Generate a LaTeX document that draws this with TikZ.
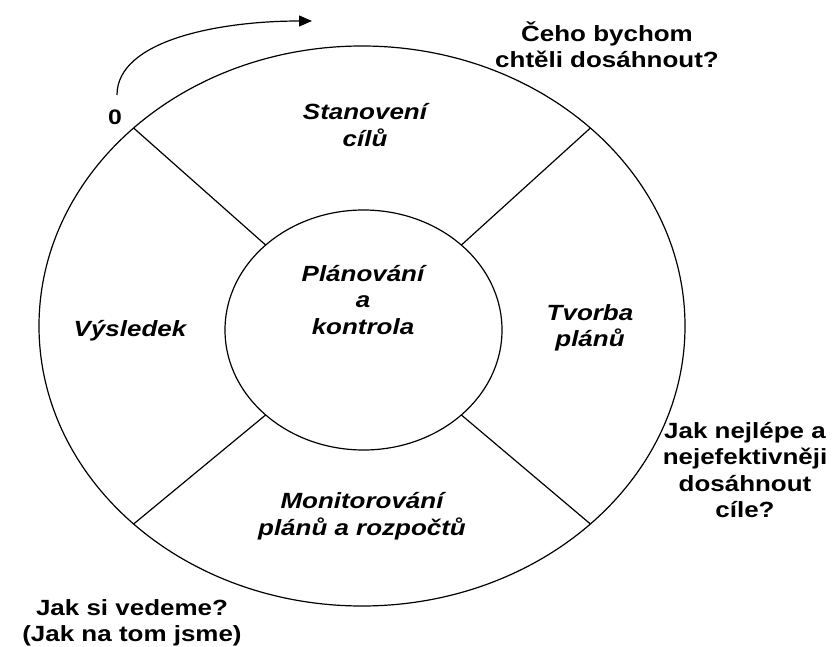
\documentclass[tikz,border=0pt]{standalone}
\usepackage{fontspec}
\setmainfont{Liberation Sans}[FakeStretch=1.18]
\usetikzlibrary{shapes.geometric,arrows.meta}
\begin{document}
\begin{tikzpicture}[x=1pt,y=-1pt,
  ring/.style={draw,ellipse,line width=1.2pt,inner sep=0pt,outer sep=0pt},
  divider/.style={line width=1.2pt},
  seg/.style={font=\fontsize{22}{26.5}\selectfont\bfseries\itshape,align=center,inner sep=0pt},
  note/.style={font=\fontsize{22}{26.5}\selectfont\bfseries,align=center,inner sep=0pt}]
\useasboundingbox (0,0) rectangle (832,647);
\node[ring,minimum width=646pt,minimum height=560pt] (outer) at (362,326) {};
\node[ring,minimum width=277pt,minimum height=240pt] (inner) at (363.5,330) {};
\coordinate (o1) at (133.6,128);
\coordinate (o2) at (590.4,128);
\coordinate (o3) at (133.6,524);
\coordinate (o4) at (590.4,524);
\coordinate (i1) at (265.6,245);
\coordinate (i2) at (461.4,245);
\coordinate (i3) at (265.6,415);
\coordinate (i4) at (461.4,415);
\draw[divider] (o1) -- (i1);
\draw[divider] (o2) -- (i2);
\draw[divider] (o3) -- (i3);
\draw[divider] (o4) -- (i4);
\node[seg] (stan) at (365,125) {Stanovení\\cílů};
\node[seg] (plan) at (363,300) {Plánování\\a\\kontrola};
\node[seg] (vys) at (130,331) {Výsledek};
\node[seg] (tvo) at (590,328) {Tvorba\\plánů};
\node[seg] (mon) at (362,516) {Monitorování\\plánů a rozpočtů};
\node[note] (q1) at (607,45) {Čeho bychom\\chtěli dosáhnout?};
\node[note] (q2) at (745,470) {Jak nejlépe a\\nejefektivněji\\dosáhnout\\cíle?};
\node[note] (q3) at (132,623) {Jak si vedeme?\\(Jak na tom jsme)};
\node[note,font=\fontsize{21}{24}\selectfont\bfseries] (zero) at (115,117) {0};
\coordinate (astart) at (117,95);
\coordinate (aend) at (312,21);
\draw[line width=1.2pt,-{Triangle[length=13pt,width=11pt]}] (astart) .. controls (117,40) and (220,21) .. (aend);
\end{tikzpicture}
\end{document}
